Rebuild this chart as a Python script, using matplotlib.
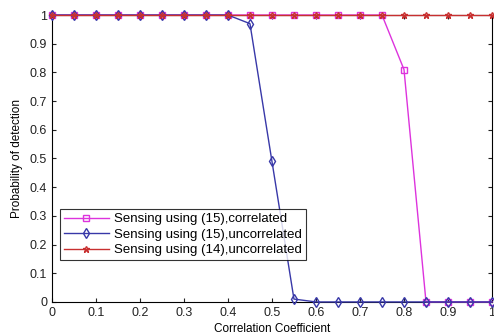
import numpy as np
import matplotlib
matplotlib.use("Agg")
import matplotlib.pyplot as plt

plt.rcParams["font.family"] = ["Liberation Sans", "DejaVu Sans"]

# data
rho = [0.0, 0.05, 0.1, 0.15, 0.2, 0.25, 0.3, 0.35, 0.4, 0.45, 0.5,
       0.55, 0.6, 0.65, 0.7, 0.75, 0.8, 0.85, 0.9, 0.95, 1.0]
pd_15_corr = [1, 1, 1, 1, 1, 1, 1, 1, 1, 1, 1,
              1, 1, 1, 1, 1, 0.81, 0, 0, 0, 0]
pd_15_uncorr = [1, 1, 1, 1, 1, 1, 1, 1, 1, 0.97, 0.49,
                0.01, 0, 0, 0, 0, 0, 0, 0, 0, 0]
pd_14_uncorr = [1] * 21

labels = ["Sensing using (15),correlated",
          "Sensing using (15),uncorrelated",
          "Sensing using (14),uncorrelated"]

fig = plt.figure(figsize=(4.94, 3.34), dpi=100)
ax = fig.add_axes([0.105, 0.096, 0.891, 0.859])

ax.plot(rho, pd_15_corr, color="#dd33dd", marker="s", markersize=5,
        markerfacecolor="none", markeredgecolor="#dd33dd", lw=1,
        label=labels[0], clip_on=False, zorder=3)
ax.plot(rho, pd_15_uncorr, color="#3838a8", marker="d", markersize=5,
        markerfacecolor="none", markeredgecolor="#3838a8", lw=1,
        label=labels[1], clip_on=False, zorder=4)
ax.plot(rho, pd_14_uncorr, color="#c83030", marker="*", markersize=5,
        markerfacecolor="none", markeredgecolor="#c83030", lw=1,
        label=labels[2], clip_on=False, zorder=5)

ax.set_xlim(0, 1)
ax.set_ylim(0, 1)
ax.set_xticks(np.arange(0, 1.01, 0.1))
ax.set_xticklabels(["0", "0.1", "0.2", "0.3", "0.4", "0.5",
                    "0.6", "0.7", "0.8", "0.9", "1"])
ax.set_yticks(np.arange(0, 1.01, 0.1))
ax.set_yticklabels(["0", "0.1", "0.2", "0.3", "0.4", "0.5",
                    "0.6", "0.7", "0.8", "0.9", "1"])
ax.tick_params(direction="in", top=True, right=True, labelsize=9,
               length=3, pad=3.5, colors="#222222")
for s in ax.spines.values():
    s.set_linewidth(0.8)

ax.set_xlabel("Correlation Coefficient", fontsize=8.5, labelpad=3)
ax.set_ylabel("Probability of detection", fontsize=8.5, labelpad=5)

leg = ax.legend(loc="lower left", bbox_to_anchor=(0.018, 0.145),
                fontsize=9.5, frameon=True, fancybox=False,
                edgecolor="black", borderpad=0.3, labelspacing=0.25,
                handlelength=3.4, handletextpad=0.4, borderaxespad=0)
leg.get_frame().set_linewidth(0.8)

fig.savefig("out.png", dpi=100)
